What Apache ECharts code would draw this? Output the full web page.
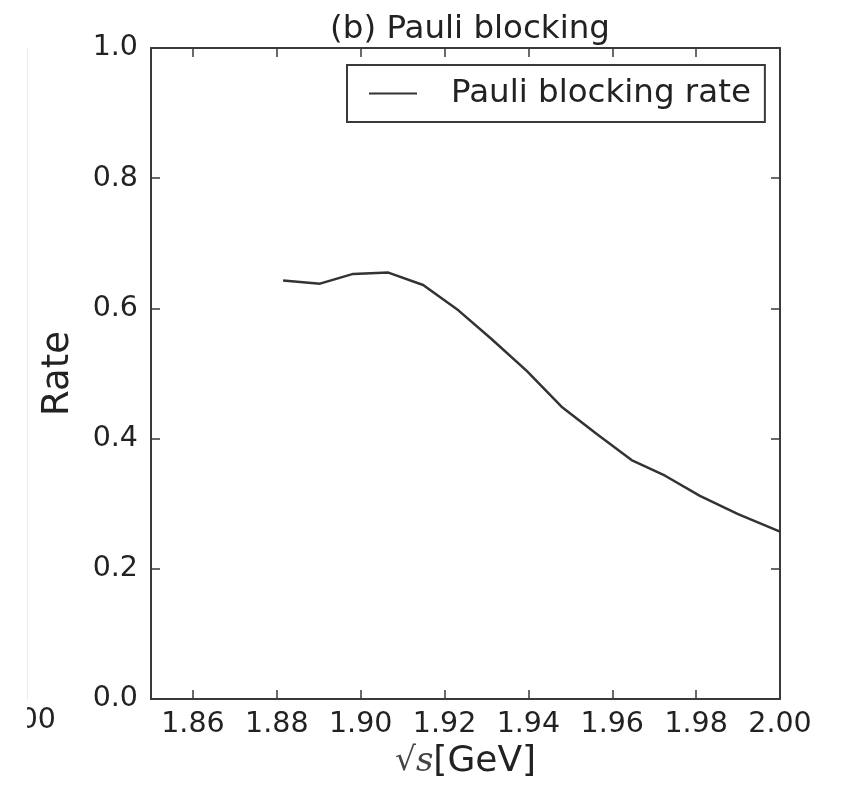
<!DOCTYPE html>
<html>
<head>
<meta charset="utf-8">
<script src="https://cdn.jsdelivr.net/npm/echarts@6/dist/echarts.min.js"></script>
<style>html,body{margin:0;padding:0;background:#fff;}#c{width:842px;height:791px;}</style>
</head>
<body>
<div id="c"></div>
<script>
const sqrtS = [1.8815, 1.8903, 1.8982, 1.9066, 1.9149, 1.9233, 1.9312, 1.9396, 1.9479, 1.9563, 1.9646, 1.9726, 1.9809, 1.9900, 2.0000];
const blockingRate = [0.643, 0.638, 0.653, 0.655, 0.636, 0.597, 0.553, 0.504, 0.449, 0.407, 0.367, 0.343, 0.312, 0.284, 0.257];
const xTicks = [1.86, 1.88, 1.90, 1.92, 1.94, 1.96, 1.98, 2.00];
const yTicks = [0.0, 0.2, 0.4, 0.6, 0.8, 1.0];
const seriesName = 'Pauli blocking rate';
const titleText = '(b) Pauli blocking';

const FONT = 'DejaVu Sans';
const INK = '#222';
const FRAME = '#3a3a3a';

const chart = echarts.init(document.getElementById('c'), null, {renderer: 'canvas'});
const points = sqrtS.map((x, i) => [x, blockingRate[i]]);

const xBase = {
  type: 'value', min: 1.85, max: 2.00,
  axisLine: {show: true, onZero: false, lineStyle: {color: FRAME, width: 2}},
  splitLine: {show: false}
};
const yBase = {
  type: 'value', min: 0, max: 1, interval: 0.2,
  axisLine: {show: true, onZero: false, lineStyle: {color: FRAME, width: 2}},
  splitLine: {show: false}
};

chart.setOption({
  animation: false,
  backgroundColor: '#fff',
  title: {
    text: titleText, left: 465, top: 8, textAlign: 'center',
    textStyle: {fontFamily: FONT, fontSize: 32.5, fontWeight: 'normal', color: INK}
  },
  legend: {
    left: 347, top: 65,
    data: [{name: seriesName, icon: 'rect'}],
    itemWidth: 48, itemHeight: 2,
    padding: [12, 14, 12, 22],
    borderColor: FRAME, borderWidth: 2, borderRadius: 0,
    backgroundColor: '#fff',
    textStyle: {fontFamily: FONT, fontSize: 32.5, color: INK, padding: [0, 0, 0, 29]}
  },
  grid: {left: 151, right: 62, top: 48, bottom: 92, containLabel: false},
  xAxis: [
    Object.assign({}, xBase, {
      position: 'bottom',
      name: '{r|√}{s|s}{t|[GeV]}', nameLocation: 'middle', nameGap: 40,
      nameTextStyle: {
        fontFamily: FONT, fontSize: 36, color: INK,
        rich: {
          r: {fontFamily: 'DejaVu Serif', fontSize: 33, color: '#444'},
          s: {fontFamily: 'DejaVu Serif', fontStyle: 'italic', fontSize: 34, color: '#444'},
          t: {fontFamily: FONT, fontSize: 36, color: INK}
        }
      },
      axisTick: {show: true, inside: true, length: 9, customValues: xTicks, lineStyle: {color: FRAME, width: 1.5}},
      axisLabel: {show: true, customValues: xTicks, margin: 11, fontFamily: FONT, fontSize: 28.5, color: INK,
        formatter: v => Number(v).toFixed(2)}
    }),
    Object.assign({}, xBase, {
      position: 'top',
      axisTick: {show: true, inside: true, length: 9, customValues: xTicks, lineStyle: {color: FRAME, width: 1.5}},
      axisLabel: {show: false}
    })
  ],
  yAxis: [
    Object.assign({}, yBase, {
      position: 'left',
      name: 'Rate', nameLocation: 'middle', nameGap: 74,
      nameTextStyle: {fontFamily: FONT, fontSize: 37, color: INK},
      axisTick: {show: true, inside: true, length: 9, lineStyle: {color: FRAME, width: 1.5}},
      axisLabel: {show: true, margin: 13, fontFamily: FONT, fontSize: 28.5, color: INK,
        formatter: v => Number(v).toFixed(1)}
    }),
    Object.assign({}, yBase, {
      position: 'right',
      axisTick: {show: true, inside: true, length: 9, lineStyle: {color: FRAME, width: 1.5}},
      axisLabel: {show: false}
    })
  ],
  graphic: [
    {type: 'line', z: 10, shape: {x1: 27.5, y1: 48, x2: 27.5, y2: 700}, style: {stroke: '#ececec', lineWidth: 1}, silent: true},
    {type: 'text', z: 10, x: 56, y: 706, style: {text: '2.00', align: 'right', verticalAlign: 'top', fontFamily: FONT, fontSize: 28.5, fill: INK}, silent: true},
    {type: 'rect', z: 1000, shape: {x: 0, y: 701, width: 27, height: 40}, style: {fill: '#fff'}, silent: true}
  ],
  series: [{
    name: seriesName, type: 'line', xAxisIndex: 0, yAxisIndex: 0,
    data: points, showSymbol: false, symbol: 'none', smooth: false,
    lineStyle: {color: '#333', width: 2.5},
    itemStyle: {color: '#333'}
  }]
});
</script>
</body>
</html>
